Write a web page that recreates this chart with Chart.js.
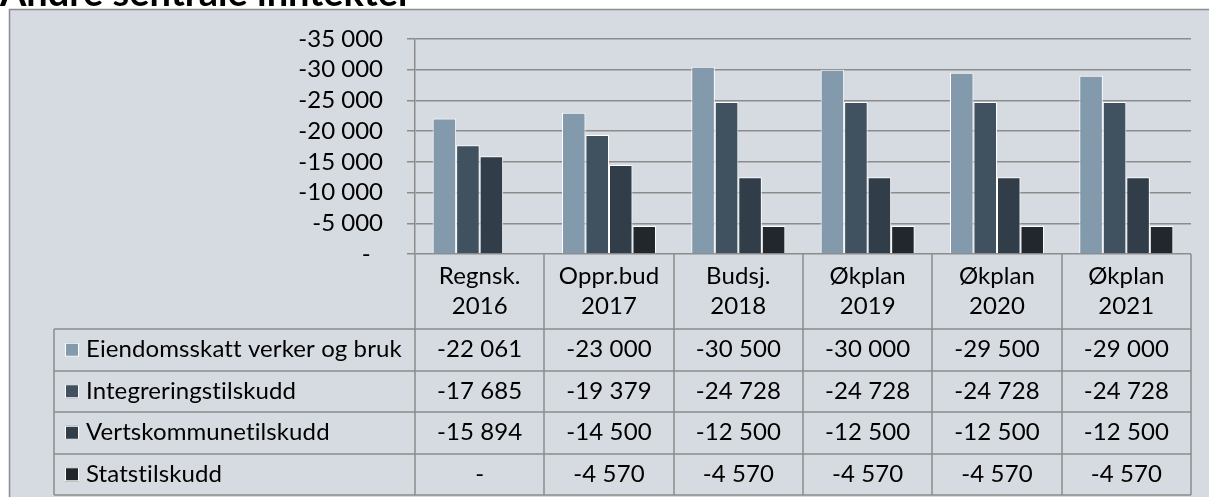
<!DOCTYPE html>
<html>
<head>
<meta charset="utf-8">
<script src="https://cdn.jsdelivr.net/npm/chart.js@4.4.1/dist/chart.umd.min.js"></script>
<style>
  html, body { margin: 0; padding: 0; background: #fff; }
  #chart { display: block; }
</style>
</head>
<body>
<canvas id="chart" width="1209" height="497"></canvas>
<script>
// chart data
const title = 'Andre sentrale inntekter';
const categories = [['Regnsk.', '2016'], ['Oppr.bud', '2017'], ['Budsj.', '2018'], ['Økplan', '2019'], ['Økplan', '2020'], ['Økplan', '2021']];
const seriesNames = ['Eiendomsskatt verker og bruk', 'Integreringstilskudd', 'Vertskommunetilskudd', 'Statstilskudd'];
const eiendomsskatt = [-22061, -23000, -30500, -30000, -29500, -29000];
const integrering = [-17685, -19379, -24728, -24728, -24728, -24728];
const vertskommune = [-15894, -14500, -12500, -12500, -12500, -12500];
const statstilskudd = [null, -4570, -4570, -4570, -4570, -4570];
const yMin = -35000, yMax = 0, yStep = 5000;

const seriesValues = [eiendomsskatt, integrering, vertskommune, statstilskudd];
const colors = ['#8399ac', '#40525f', '#313e4a', '#22272e'];
const FONT_SIZE = 24;
const FONT = FONT_SIZE + 'px Lato';
const LINE = '#8c8c8c';

// -22061 -> "-22 061", empty/zero -> "-"
const fmt = v => (v == null || v === 0) ? '-' :
  (v < 0 ? '-' : '') + Math.abs(v).toString().replace(/\B(?=(\d{3})+(?!\d))/g, ' ');

// no "ti" ligatures (Calibri in the original has none)
const noLigatures = ctx => {
  if ('letterSpacing' in ctx) ctx.letterSpacing = '0.1px';
  ctx.textRendering = 'optimizeSpeed';
};

// grey frame + title behind the chart
const frame = {
  id: 'frame',
  beforeDraw(chart) {
    const ctx = chart.ctx;
    ctx.save();
    ctx.fillStyle = '#fff';
    ctx.fillRect(0, 0, chart.width, chart.height);
    ctx.fillStyle = '#d6dbe1';
    ctx.fillRect(10, 10, chart.width, chart.height);
    ctx.strokeStyle = LINE;
    ctx.lineWidth = 1.5;
    ctx.strokeRect(9.5, 9.5, chart.width + 5, chart.height + 5);
    ctx.fillStyle = '#000';
    ctx.font = 'bold 38px Lato';
    ctx.textBaseline = 'alphabetic';
    ctx.fillText(title, 0, 6);
    ctx.restore();
  }
};

// Excel style data table under the x axis
const dataTable = {
  id: 'dataTable',
  afterDraw(chart) {
    const { ctx, chartArea } = chart;
    const x = chart.scales.x;
    const top = chartArea.bottom;
    const headerBottom = top + 75;
    const rowH = 41.5;
    const left = 54;
    const right = chartArea.right;
    const bottom = headerBottom + rowH * seriesNames.length;

    ctx.save();
    ctx.strokeStyle = LINE;
    ctx.lineWidth = 1.5;
    ctx.beginPath();
    for (let i = 0; i <= categories.length; i++) {
      const px = Math.round(x.getPixelForValue(i - 0.5));
      ctx.moveTo(px, top);
      ctx.lineTo(px, bottom);
    }
    ctx.moveTo(left, headerBottom);
    ctx.lineTo(left, bottom);
    for (let r = 0; r <= seriesNames.length; r++) {
      const py = Math.round(headerBottom + r * rowH);
      ctx.moveTo(left, py);
      ctx.lineTo(right, py);
    }
    ctx.stroke();

    noLigatures(ctx);
    ctx.fillStyle = '#000';
    ctx.font = FONT;
    ctx.textAlign = 'center';
    ctx.textBaseline = 'middle';
    categories.forEach((lines, i) => {
      const cx = x.getPixelForValue(i);
      ctx.fillText(lines[0], cx, top + 22);
      ctx.fillText(lines[1], cx, top + 52);
    });

    seriesNames.forEach((name, r) => {
      const cy = headerBottom + r * rowH + rowH / 2;
      ctx.fillStyle = colors[r];
      ctx.fillRect(65, cy - 7, 14, 14);
      ctx.strokeStyle = '#fff';
      ctx.lineWidth = 1;
      ctx.strokeRect(65.5, cy - 6.5, 13, 13);
      ctx.fillStyle = '#000';
      ctx.textAlign = 'left';
      ctx.fillText(name, 86, cy);
      ctx.textAlign = 'center';
      seriesValues[r].forEach((v, i) => {
        ctx.fillText(fmt(v), x.getPixelForValue(i), cy);
      });
    });
    ctx.restore();
  }
};

new Chart(document.getElementById('chart'), {
  type: 'bar',
  data: {
    labels: categories.map(c => c.join(' ')),
    datasets: seriesNames.map((name, i) => ({
      label: name,
      data: seriesValues[i],
      backgroundColor: colors[i]
    }))
  },
  options: {
    responsive: false,
    animation: false,
    layout: { padding: { left: 10, right: 18, top: 39, bottom: 243 } },
    plugins: {
      legend: { display: false },
      tooltip: { enabled: false }
    },
    datasets: {
      bar: { categoryPercentage: 0.727, barPercentage: 1, borderColor: '#fff', borderWidth: 1 }
    },
    scales: {
      x: { display: false, offset: true, grid: { display: false } },
      y: {
        reverse: true,
        min: yMin,
        max: yMax,
        ticks: {
          stepSize: yStep,
          autoSkip: false,
          padding: 24,
          color: '#000',
          font: { family: 'Lato', size: FONT_SIZE, lineHeight: 1 },
          callback: v => v === 0 ? '-  ' : fmt(v)
        },
        grid: { color: LINE, lineWidth: 1.5, tickLength: 8 },
        border: { color: LINE, width: 1.5 },
        afterFit: s => { s.width = 405; }
      }
    }
  },
  plugins: [frame, dataTable]
});
</script>
</body>
</html>
